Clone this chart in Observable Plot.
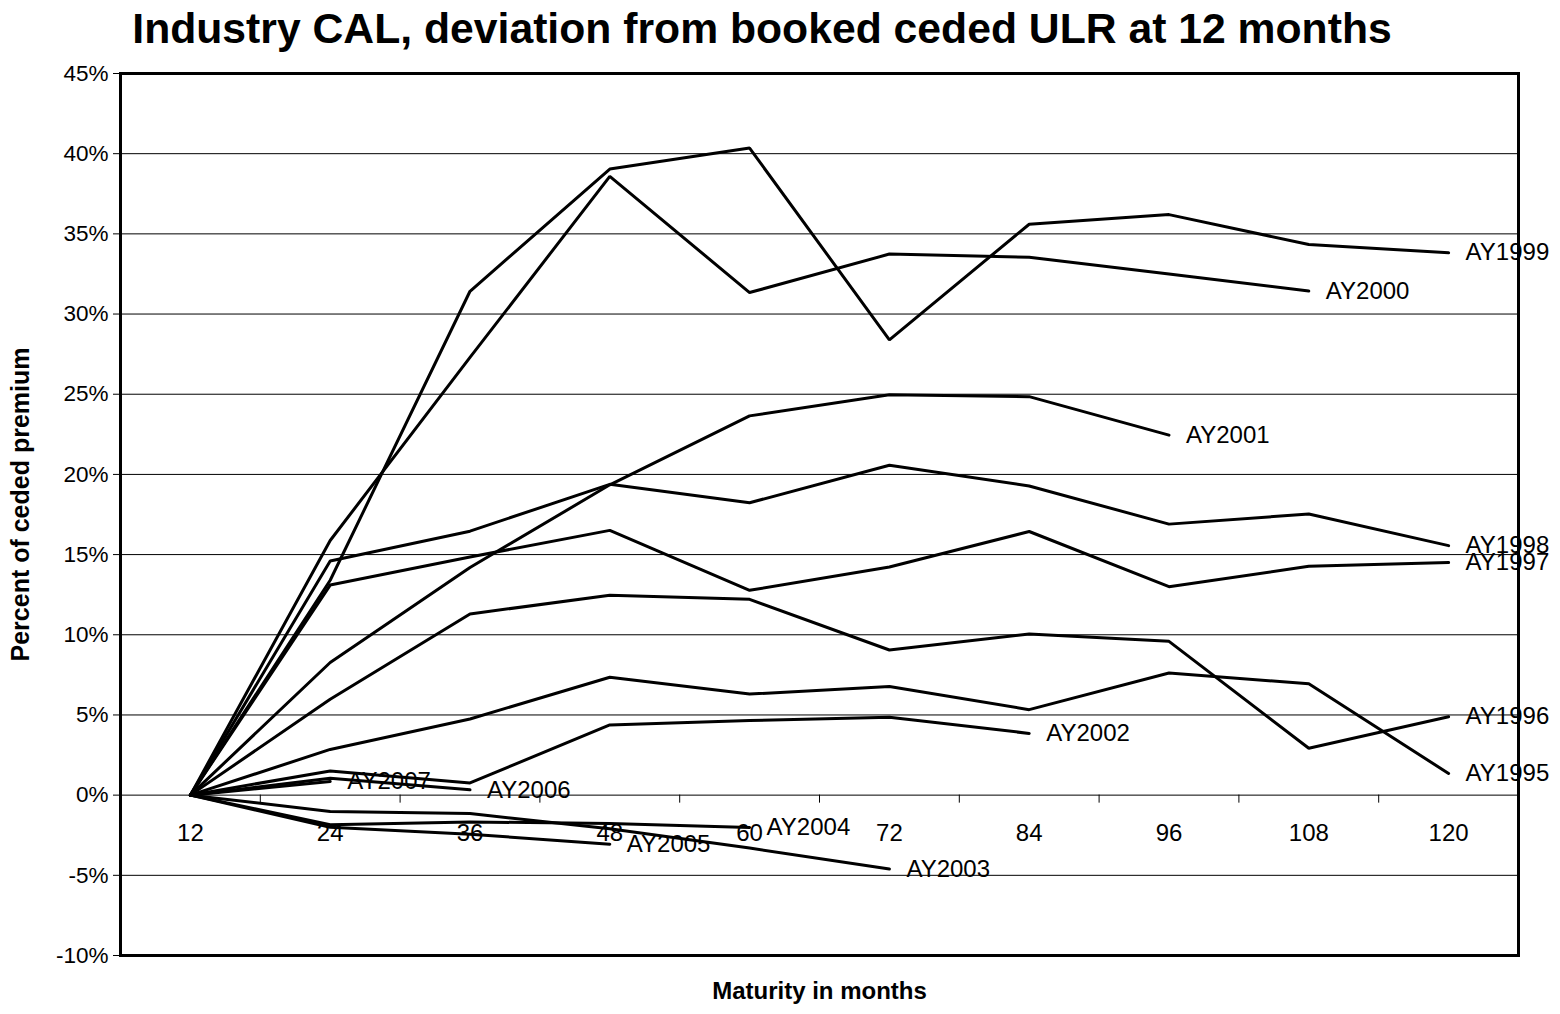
<!DOCTYPE html>
<html><head><meta charset="utf-8">
<script src="https://cdn.jsdelivr.net/npm/d3@7"></script>
<script src="https://cdn.jsdelivr.net/npm/@observablehq/plot@0.6"></script>
<style>
html,body{margin:0;padding:0;background:#fff;}
body{width:1560px;height:1014px;overflow:hidden;font-family:"Liberation Sans",Arial,sans-serif;}
#title{width:1524px;height:60px;line-height:57px;text-align:center;font-size:42.7px;font-weight:bold;color:#000;white-space:nowrap;}
#chart svg{display:block;}
</style></head><body>
<div id="title">Industry CAL, deviation from booked ceded ULR at 12 months</div>
<div id="chart"></div>
<script>
const maturities = [12, 24, 36, 48, 60, 72, 84, 96, 108, 120];
const seriesNames = ["AY1995","AY1996","AY1997","AY1998","AY1999","AY2000","AY2001","AY2002","AY2003","AY2004","AY2005","AY2006","AY2007"];
const ay1995 = [0, 2.85, 4.75, 7.35, 6.3, 6.78, 5.33, 7.62, 6.94, 1.35];
const ay1996 = [0, 5.98, 11.3, 12.46, 12.21, 9.05, 10.05, 9.59, 2.92, 4.89];
const ay1997 = [0, 13.1, 14.85, 16.51, 12.77, 14.23, 16.44, 13.0, 14.27, 14.5];
const ay1998 = [0, 14.6, 16.46, 19.38, 18.23, 20.57, 19.28, 16.9, 17.53, 15.56];
const ay1999 = [0, 13.4, 31.42, 39.04, 40.35, 28.39, 35.6, 36.2, 34.34, 33.82];
const ay2000 = [0, 15.88, 27.3, 38.58, 31.34, 33.74, 33.54, 32.5, 31.43];
const ay2001 = [0, 8.27, 14.2, 19.35, 23.65, 24.97, 24.85, 22.45];
const ay2002 = [0, 1.51, 0.76, 4.38, 4.65, 4.86, 3.85];
const ay2003 = [0, -1.02, -1.15, -2.1, -3.3, -4.6];
const ay2004 = [0, -1.85, -1.67, -1.77, -2.02];
const ay2005 = [0, -2.0, -2.44, -3.06];
const ay2006 = [0, 1.05, 0.33];
const ay2007 = [0, 0.85];
const yTicks = [-10, -5, 0, 5, 10, 15, 20, 25, 30, 35, 40, 45];
const yLabel = "Percent of ceded premium";
const xLabel = "Maturity in months";

const seriesValues = [ay1995, ay1996, ay1997, ay1998, ay1999, ay2000, ay2001, ay2002, ay2003, ay2004, ay2005, ay2006, ay2007];
const rows = seriesNames.flatMap((name, i) => seriesValues[i].map((v, j) => ({series: name, maturity: maturities[j], value: v})));
const ends = seriesNames.map((name, i) => {
  const vals = seriesValues[i];
  return {series: name, maturity: maturities[vals.length - 1], value: vals[vals.length - 1]};
});
const step = maturities[1] - maturities[0];
const boundaries = maturities.slice(1).map(m => m - step / 2);
const font = '"Liberation Sans", Arial, sans-serif';

const chart = Plot.plot({
  width: 1560, height: 954,
  marginLeft: 120, marginRight: 42, marginTop: 13, marginBottom: 59,
  style: {fontFamily: font, fontSize: "24px", color: "#000", background: "#fff"},
  x: {type: "linear", domain: [maturities[0] - step / 2, maturities[maturities.length - 1] + step / 2], axis: null},
  y: {domain: [yTicks[0], yTicks[yTicks.length - 1]], axis: null},
  marks: [
    Plot.gridY(yTicks, {stroke: "#000", strokeOpacity: 1, strokeWidth: 1}),
    Plot.ruleX(boundaries, {x: d => d, y1: () => 0, y2: () => -0.5, stroke: "#000", strokeWidth: 1}),
    Plot.axisY(yTicks, {tickFormat: d => d + "%", tickSize: 7, tickPadding: 5, fontSize: 22.5, label: null, stroke: "#000"}),
    Plot.text(maturities, {x: d => d, y: () => 0, text: d => String(d), dy: 38, fontSize: 24}),
    Plot.line(rows, {x: "maturity", y: "value", z: "series", stroke: "#000", strokeWidth: 3, strokeLinejoin: "miter"}),
    Plot.text(ends, {x: "maturity", y: "value", text: "series", dx: 17, textAnchor: "start", fontSize: 24}),
    Plot.frame({stroke: "#000", strokeWidth: 3}),
    Plot.text([yLabel], {frameAnchor: "left", textAnchor: "middle", dx: -100, dy: -10, rotate: -90, fontWeight: "bold", fontSize: 25}),
    Plot.text([xLabel], {frameAnchor: "bottom", textAnchor: "middle", dy: 43, fontWeight: "bold", fontSize: 24})
  ]
});
document.getElementById("chart").appendChild(chart);
</script>
</body></html>
